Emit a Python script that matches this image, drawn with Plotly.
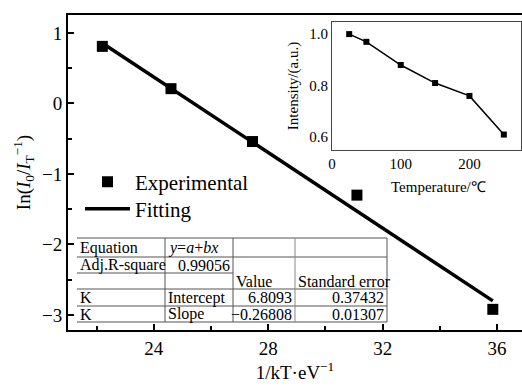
import plotly.graph_objects as go

# ---- data ----
exp_x = [22.2, 24.6, 27.45, 31.1, 35.85]
exp_y = [0.81, 0.21, -0.54, -1.30, -2.92]
fit_x = [22.3, 35.85]
fit_y = [0.83, -2.80]

temp_c = [25, 50, 100, 150, 200, 250]
intensity = [1.0, 0.97, 0.88, 0.81, 0.76, 0.61]

table_rows = [
    ["Equation", "<i>y</i>=<i>a</i>+<i>bx</i>", "", ""],
    ["Adj.R-square", "0.99056", "", ""],
    ["", "", "Value", "Standard error"],
    ["K", "Intercept", "6.8093", "0.37432"],
    ["K", "Slope", "\u22120.26808", "0.01307"],
]

FONT = "Liberation Serif"
W, H = 522, 390
L, R, T, B = 68, 0, 15, 60
PW, PH = W - L - R, H - T - B


def px(x):
    return (x - L) / PW


def py(y):
    return (H - B - y) / PH


def f(size):
    return dict(family=FONT, size=size, color="black")


fig = go.Figure()
fig.add_trace(go.Scatter(x=exp_x, y=exp_y, mode="markers", name="Experimental",
                         legend="legend",
                         marker=dict(symbol="square", size=11, color="black")))
fig.add_trace(go.Scatter(x=fit_x, y=fit_y, mode="lines", name="Fitting",
                         legend="legend2",
                         line=dict(color="black", width=3.5)))
fig.add_trace(go.Scatter(x=temp_c, y=intensity, mode="lines+markers", showlegend=False,
                         xaxis="x2", yaxis="y2",
                         line=dict(color="black", width=1.5),
                         marker=dict(symbol="square", size=6, color="black")))

leg_common = dict(xanchor="left", yanchor="middle", font=f(21),
                  bgcolor="rgba(0,0,0,0)", itemwidth=45)

fig.update_layout(
    width=W, height=H,
    margin=dict(l=L, r=R, t=T, b=B, autoexpand=False),
    paper_bgcolor="white", plot_bgcolor="white",
    font=f(19),
    legend=dict(x=px(80), y=py(182), **leg_common),
    legend2=dict(x=px(80), y=py(209), **leg_common),
    xaxis=dict(range=[21.0, 36.87], tickmode="linear", tick0=24, dtick=4,
               ticks="inside", ticklen=6, tickwidth=1.5, tickcolor="black",
               minor=dict(tickmode="linear", tick0=22, dtick=2, ticks="inside", ticklen=4,
                          tickcolor="black"),
               showline=True, linecolor="black", linewidth=2, mirror=True,
               showgrid=False, zeroline=False, automargin=False, tickfont=f(19),
               title=dict(text="1/kT\u00b7eV<sup>\u22121</sup>", standoff=7, font=f(19))),
    yaxis=dict(range=[-3.213, 1.255], tickmode="linear", tick0=0, dtick=1,
               ticks="inside", ticklen=6, tickwidth=1.5, tickcolor="black",
               minor=dict(tickmode="linear", tick0=0.5, dtick=1, ticks="inside", ticklen=4,
                          tickcolor="black"),
               showline=True, linecolor="black", linewidth=2, mirror=False,
               showgrid=False, zeroline=False, automargin=False, tickfont=f(19),
               title=dict(text="In(<i>I</i><sub>0</sub>/<i>I</i><sub>T</sub><sup>\u22121</sup>)",
                          standoff=6, font=f(19))),
    xaxis2=dict(domain=[px(332), px(521)], anchor="y2", range=[0, 275],
                tickvals=[0, 100, 200], ticks="", showline=True, linecolor="#444",
                linewidth=1.2, mirror=True, showgrid=False, zeroline=False,
                automargin=False, tickfont=f(15)),
    yaxis2=dict(domain=[py(150), py(22)], anchor="x2", range=[0.55, 1.047],
                tickvals=[0.6, 0.8, 1.0], ticktext=["0.6", "0.8", "1.0"], ticks="",
                showline=True, linecolor="#444", linewidth=1.2, mirror=True,
                showgrid=False, zeroline=False, automargin=False, tickfont=f(15),
                title=dict(text="Intensity/(a.u.)", font=f(15), standoff=6)),
)

# inset x-axis title (offset to the right as in the reference)
fig.add_annotation(text="Temperature/\u2103", xref="paper", yref="paper",
                   x=px(438), y=py(187), xanchor="center", yanchor="middle",
                   showarrow=False, font=f(15))

# ---- fit results table ----
shapes = []
row_y = [238, 257, 273, 289, 306, 322]
col_x = [77, 165, 233, 295, 387]
line_style = dict(color="#555", width=1)
for i, yy in enumerate(row_y):
    x1 = col_x[2] if i == 2 else col_x[-1]
    shapes.append(dict(type="line", xref="paper", yref="paper",
                       x0=px(col_x[0]), x1=px(x1), y0=py(yy), y1=py(yy), line=line_style))
for j, xx in enumerate(col_x[1:]):
    shapes.append(dict(type="line", xref="paper", yref="paper",
                       x0=px(xx), x1=px(xx), y0=py(row_y[0]), y1=py(row_y[-1]),
                       line=dict(color="#888" if j == 2 else "#555", width=1)))
fig.update_layout(shapes=shapes)

align = [
    ["left", "left", "left", "left"],
    ["left", "right", "left", "left"],
    ["left", "left", "left", "left"],
    ["left", "left", "right", "right"],
    ["left", "left", "right", "right"],
]
for r, row in enumerate(table_rows):
    yc = (row_y[r] + row_y[r + 1]) / 2
    for c, txt in enumerate(row):
        if not txt:
            continue
        if align[r][c] == "left":
            xx, anchor = col_x[c] + 1, "left"
        else:
            xx, anchor = col_x[c + 1] - 1, "right"
        fig.add_annotation(text=txt, xref="paper", yref="paper", x=px(xx), y=py(yc),
                           xanchor=anchor, yanchor="middle", showarrow=False,
                           font=f(16))

fig.write_html("out.html", config={"displayModeBar": False})

# remove the browser's default page margin so the figure sits at (0, 0)
with open("out.html", encoding="utf-8") as fh:
    html = fh.read()
html = html.replace("<head>", "<head><style>html,body{margin:0;padding:0;}</style>", 1)
with open("out.html", "w", encoding="utf-8") as fh:
    fh.write(html)
